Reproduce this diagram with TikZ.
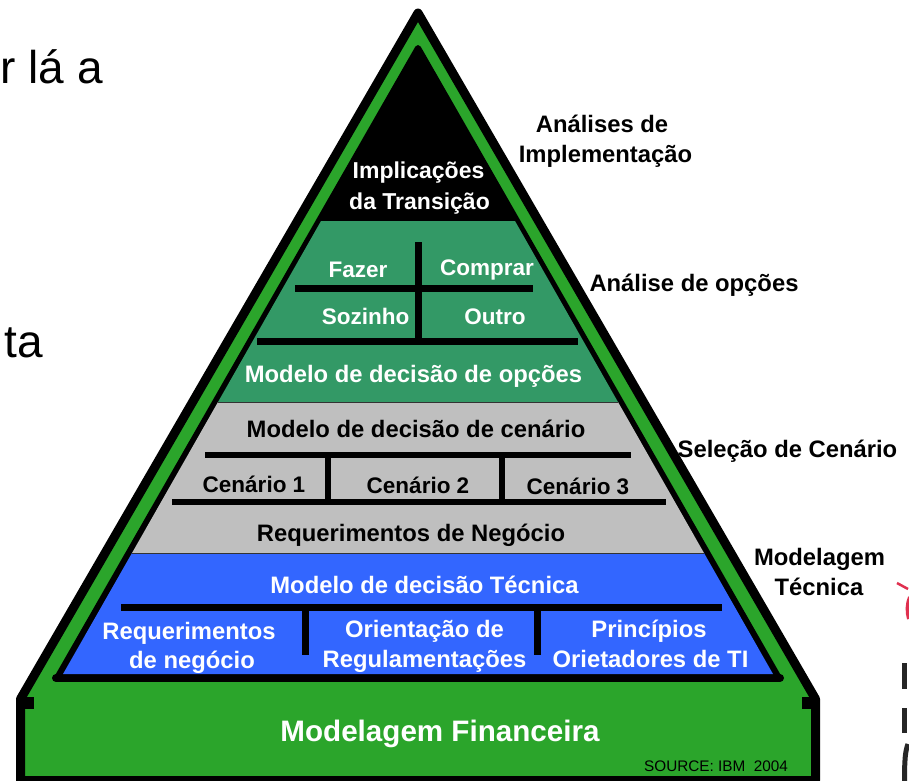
\documentclass[tikz,border=0pt]{standalone}
\usepackage{fontspec}
\setmainfont{Liberation Sans}
\definecolor{basegreen}{HTML}{2BA52B}
\definecolor{teal}{HTML}{339966}
\definecolor{silver}{HTML}{BFBFBF}
\definecolor{royal}{HTML}{3366FF}
\definecolor{logored}{HTML}{E0304F}
\begin{document}
\begin{tikzpicture}[x=1pt,y=-1pt,
		txt/.style={anchor=base,inner sep=0pt,font=\bfseries\fontsize{23.8}{23.8}\selectfont},
		small/.style={txt,font=\bfseries\fontsize{22.5}{22.5}\selectfont},
		bar/.style={line width=7pt},
		thin bar/.style={line width=6pt}]
		\clip (0,0) rectangle (909,780);
		\fill[white] (0,0) rectangle (909,780);
		% outer shape
		\draw[line width=9pt,line join=round,fill=basegreen] (20.5,780.5) -- (20.5,699) -- (418,13) -- (815.5,699) -- (815.5,780.5) -- cycle;
		\fill (17,697) rectangle (34,709);
		\fill (802,697) rectangle (819,709);
		% inner triangle and bands
		\draw[line width=6pt,line join=round,fill=black] (57,678) -- (418,48) -- (779,678) -- cycle;
		\draw[line width=8pt,line cap=round] (56,678) -- (780,678);
		\fill[teal] (321,221) -- (515,221) -- (618,402) -- (218,402) -- cycle;
		\fill[silver] (218,402) -- (618,402) -- (704,553) -- (132,553) -- cycle;
		\fill[royal] (132,553) -- (704,553) -- (773,674) -- (63,674) -- cycle;
		\draw[line width=1pt,black!80] (218,402) -- (618,402);
		\draw[line width=1pt,black!80] (132,553) -- (704,553);
		% dividers
		\draw[bar] (295,288.5) -- (533,288.5);
		\draw[bar] (418,242) -- (418,342);
		\draw[bar] (257,341.5) -- (578,341.5);
		\draw[thin bar] (205,455) -- (631,455);
		\draw[thin bar] (328,452) -- (328,505);
		\draw[thin bar] (502,452) -- (502,505);
		\draw[thin bar] (172,502) -- (666,502);
		\draw[bar] (121,607.5) -- (722,607.5);
		\draw[bar] (305,604) -- (305,655);
		\draw[bar] (537,604) -- (537,655);
		% labels in the pyramid
		\node[txt,white,font=\bfseries\fontsize{23}{23}\selectfont] (impl) at (418.5,178) {Implicações};
		\node[txt,white,font=\bfseries\fontsize{23}{23}\selectfont] (trans) at (419.5,209) {da Transição};
		\node[small,white] (fazer) at (358,277) {Fazer};
		\node[small,white] (comprar) at (487,275) {Comprar};
		\node[small,white] (sozinho) at (365.5,324) {Sozinho};
		\node[small,white] (outro) at (495,324) {Outro};
		\node[txt,white] (opcoes) at (413.5,382) {Modelo de decisão de opções};
		\node[txt] (cenario) at (416,437) {Modelo de decisão de cenário};
		\node[small] (cen1) at (254,492) {Cenário 1};
		\node[small] (cen2) at (418,493) {Cenário 2};
		\node[small] (cen3) at (578,494) {Cenário 3};
		\node[txt] (reqneg) at (411,541) {Requerimentos de Negócio};
		\node[txt,white] (tecnica) at (424.5,593) {Modelo de decisão Técnica};
		\node[txt,white] (req) at (189,639) {Requerimentos};
		\node[txt,white] (neg) at (192,668) {de negócio};
		\node[txt,white] (orient) at (424.5,637) {Orientação de};
		\node[txt,white] (regul) at (424.5,667) {Regulamentações};
		\node[txt,white] (princ) at (649,637) {Princípios};
		\node[txt,white] (oriet) at (650.5,667) {Orietadores de TI};
		\node[txt,white,font=\bfseries\fontsize{29.6}{29.6}\selectfont] (fin) at (440,741) {Modelagem Financeira};
		\node[anchor=base,inner sep=0pt,font=\fontsize{15.3}{15.3}\selectfont] (source) at (716,771) {SOURCE: IBM\ \ 2004};
		% labels on the right
		\node[txt] (analises) at (602,132) {Análises de};
		\node[txt] (implem) at (605.5,162) {Implementação};
		\node[txt] (aopcoes) at (694,291) {Análise de opções};
		\node[txt] (selecao) at (787.5,457) {Seleção de Cenário};
		\node[txt] (modelagem) at (819.5,565) {Modelagem};
		\node[txt] (tecn) at (819,595) {Técnica};
		% cut off text on the left
		\node[anchor=base east,inner sep=0pt,font=\fontsize{46}{46}\selectfont] (la) at (103,83) {r lá a};
		\node[anchor=base east,inner sep=0pt,font=\fontsize{46}{46}\selectfont] (ta) at (43,357) {ta};
		% cut off logo on the right
		\draw[logored,line width=2.5pt] (897,583) -- (908,589);
		\draw[logored,line width=4pt] (910,597) .. controls (907,604) and (907,612) .. (909,619);
		\draw[black!85,line width=5pt] (904.5,663) -- (904.5,689);
		\draw[black!85,line width=5pt] (904.5,708) -- (904.5,733);
		\draw[black!85,line width=5pt] (908,744) .. controls (905,752) and (904.5,760) .. (904.5,785);
	\end{tikzpicture}
\end{document}
